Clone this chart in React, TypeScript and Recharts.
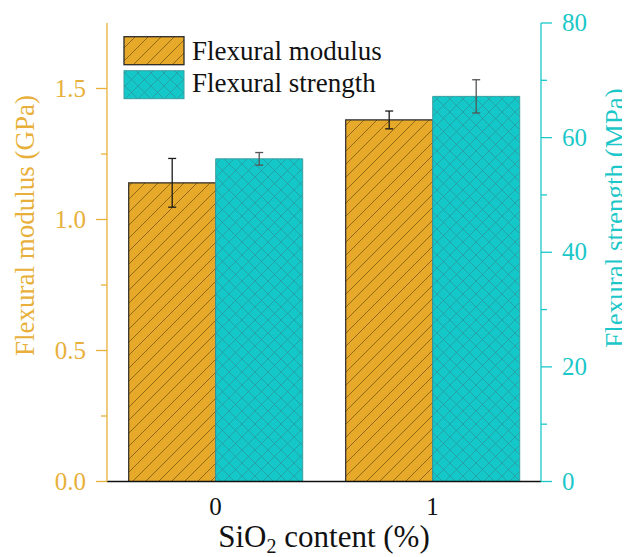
import React from 'react';
import { BarChart, Bar, XAxis, YAxis, ErrorBar, Customized } from 'recharts';

const categories = ['0', '1'];
const seriesNames = ['Flexural modulus', 'Flexural strength'];
const modulus = [1.14, 1.38];
const modulusErr = [0.093, 0.034];
const strength = [56.3, 67.2];
const strengthErr = [1.1, 2.9];
const leftTicks = [0, 0.25, 0.5, 0.75, 1, 1.25, 1.5];
const rightTicks = [0, 10, 20, 30, 40, 50, 60, 70, 80];
const leftDomain = [0, 1.75];
const rightDomain = [0, 80];

const data = categories.map((c, i) => ({
  cat: c,
  modulus: modulus[i],
  modulusErr: modulusErr[i],
  strength: strength[i],
  strengthErr: strengthErr[i],
}));

const FONT = 'Liberation Serif, Tinos, Times New Roman, DejaVu Serif, serif';
const ORANGE_AXIS = '#E8B03A';
const ORANGE_BAR = '#E6A92A';
const CYAN_AXIS = '#1CC7C9';
const CYAN_BAR = '#14C8CA';

const isMajor = (v: number, step: number) => Math.abs(v / step - Math.round(v / step)) < 1e-6;

const LeftTick = (props: any) => {
  const { x, y, payload } = props;
  const v = payload.value;
  const major = isMajor(v, 0.5);
  const len = major ? 11 : 6;
  return (
    <g>
      <line x1={x - len} x2={x} y1={y} y2={y} stroke={ORANGE_AXIS} strokeWidth={1.3} />
      {major && (
        <text x={x - 21} y={y} dy={8} textAnchor="end" fill={ORANGE_AXIS} fontSize={25} style={{ fontFamily: FONT }}>
          {v.toFixed(1)}
        </text>
      )}
    </g>
  );
};

const RightTick = (props: any) => {
  const { x, y, payload } = props;
  const v = payload.value;
  const major = isMajor(v, 20);
  const len = major ? 11 : 6;
  return (
    <g>
      <line x1={x} x2={x + len} y1={y} y2={y} stroke={CYAN_AXIS} strokeWidth={1.3} />
      {major && (
        <text x={x + 21} y={y} dy={8} textAnchor="start" fill={CYAN_AXIS} fontSize={25} style={{ fontFamily: FONT }}>
          {String(v)}
        </text>
      )}
    </g>
  );
};

const BottomTick = (props: any) => {
  const { x, y, payload } = props;
  return (
    <text x={x} y={y} dy={33} textAnchor="middle" fill="#111" fontSize={25} style={{ fontFamily: FONT }}>
      {payload.value}
    </text>
  );
};

const Decorations = () => (
  <g style={{ fontFamily: FONT }}>
    <rect x={116} y={28.7} width={60} height={28} fill="url(#hatchOrange)" stroke="#2a2a2a" strokeWidth={1.3} />
    <text x={184} y={51.5} fontSize={27} fill="#111" style={{ fontFamily: FONT }}>{seriesNames[0]}</text>
    <rect x={116} y={62.7} width={60} height={28} fill="url(#hatchCyan)" stroke="#3a9ea0" strokeWidth={1} />
    <text x={184} y={84} fontSize={27} fill="#111" style={{ fontFamily: FONT }}>{seriesNames[1]}</text>
    <text
      x={26}
      y={217.5}
      transform="rotate(-90, 26, 217.5)"
      textAnchor="middle"
      fill={ORANGE_AXIS}
      fontSize={27}
      style={{ fontFamily: FONT }}
    >
      Flexural modulus (GPa)
    </text>
    <text
      x={616}
      y={210}
      transform="rotate(-90, 616, 210)"
      textAnchor="middle"
      fill={CYAN_AXIS}
      fontSize={27}
      style={{ fontFamily: FONT }}
    >
      Flexural strength (MPa)
    </text>
    <text x={316} y={539} textAnchor="middle" fill="#111" fontSize={31} style={{ fontFamily: FONT }}>
      SiO
      <tspan fontSize={20} dy={6}>2</tspan>
      <tspan dy={-6}> content (%)</tspan>
    </text>
  </g>
);

export default function App() {
  return (
    <BarChart
      width={622}
      height={549}
      data={data}
      margin={{ top: 15, right: 29, left: 29, bottom: 35.5 }}
      barCategoryGap="10%"
      barGap={0}
      style={{ fontFamily: FONT }}
    >
      <defs>
        <pattern id="hatchOrange" patternUnits="userSpaceOnUse" width={13} height={13}>
          <rect width={13} height={13} fill={ORANGE_BAR} />
          <path d="M0,13 L13,0 M-3,3 L3,-3 M10,16 L16,10" stroke="#6e4c0c" strokeWidth={0.7} />
        </pattern>
        <pattern id="hatchCyan" patternUnits="userSpaceOnUse" width={13} height={13}>
          <rect width={13} height={13} fill={CYAN_BAR} />
          <path d="M0,0 L13,13 M0,13 L13,0" stroke="#2f8a90" strokeWidth={0.6} />
        </pattern>
      </defs>
      <XAxis
        dataKey="cat"
        tickLine={false}
        tickSize={0}
        tickMargin={0}
        axisLine={{ stroke: '#111', strokeWidth: 1.3 }}
        tick={<BottomTick />}
        height={40}
      />
      <XAxis xAxisId="top" dataKey="cat" orientation="top" height={0} tick={false} tickLine={false} axisLine={{ stroke: '#111', strokeWidth: 1.3 }} />
      <YAxis
        yAxisId="left"
        orientation="left"
        domain={leftDomain}
        ticks={leftTicks}
        tickSize={0}
        tickMargin={0}
        tickLine={false}
        axisLine={{ stroke: ORANGE_AXIS, strokeWidth: 1.3 }}
        tick={<LeftTick />}
        width={70}
        allowDataOverflow
        interval={0}
      />
      <YAxis
        yAxisId="right"
        orientation="right"
        domain={rightDomain}
        ticks={rightTicks}
        tickSize={0}
        tickMargin={0}
        tickLine={false}
        axisLine={{ stroke: CYAN_AXIS, strokeWidth: 1.3 }}
        tick={<RightTick />}
        width={60}
        allowDataOverflow
        interval={0}
      />
      <Bar yAxisId="left" dataKey="modulus" name={seriesNames[0]} fill="url(#hatchOrange)" stroke="#2a2a2a" strokeWidth={1.2} isAnimationActive={false}>
        <ErrorBar dataKey="modulusErr" width={4} stroke="#1a1a1a" strokeWidth={1.3} isAnimationActive={false} />
      </Bar>
      <Bar yAxisId="right" dataKey="strength" name={seriesNames[1]} fill="url(#hatchCyan)" stroke="#3a9ea0" strokeWidth={1} isAnimationActive={false}>
        <ErrorBar dataKey="strengthErr" width={4} stroke="#555" strokeWidth={1.3} isAnimationActive={false} />
      </Bar>
      <Customized component={Decorations} />
    </BarChart>
  );
}
